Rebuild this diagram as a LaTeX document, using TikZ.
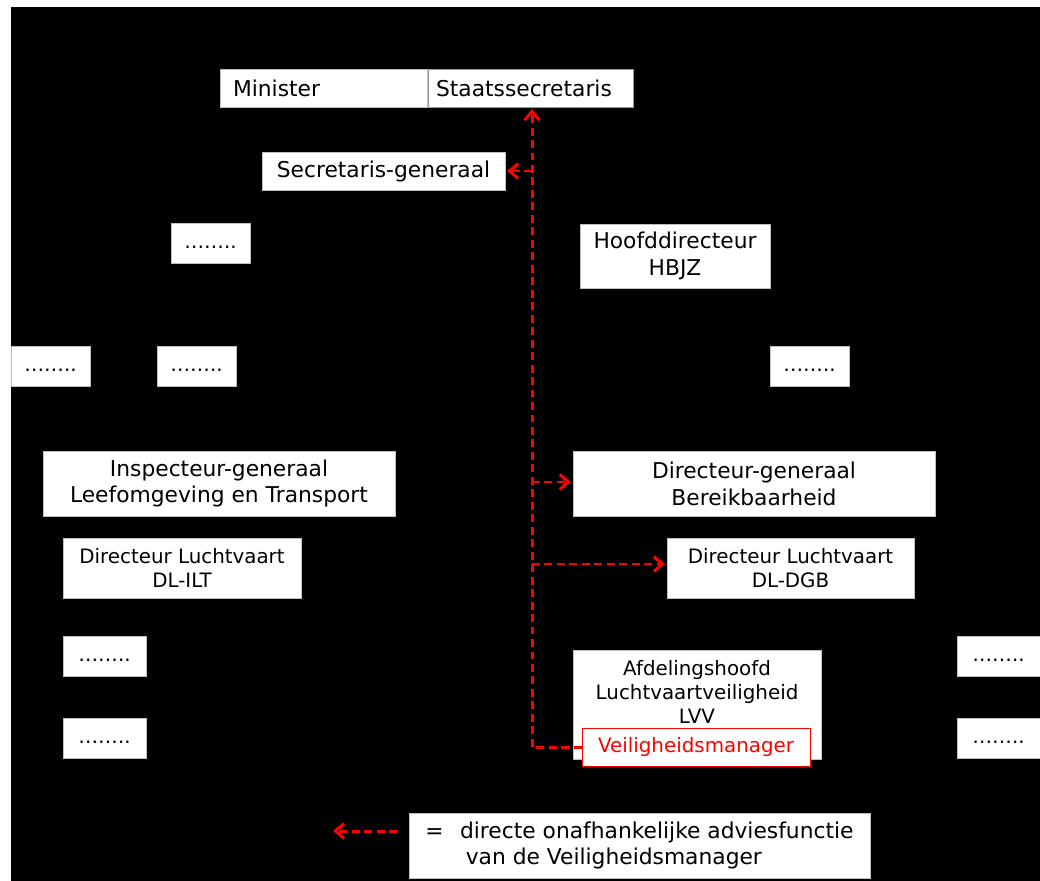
\documentclass[tikz,border=0pt]{standalone}
\usepackage{fontspec}
\setmainfont{DejaVu Sans}
\usetikzlibrary{arrows.meta,calc}
\newcommand{\bigfnt}{\fontsize{12.4}{15.3}\selectfont}
\newcommand{\smlfnt}{\fontsize{11.3}{13.6}\selectfont}
\tikzset{
  box/.style={draw=gray!50,fill=white,thin,inner sep=0pt,align=center,font=\bigfnt},
  sz/.style 2 args={minimum width=#1*0.02cm,minimum height=#2*0.02cm},
  adv/.style={red,line width=1.7pt,dash pattern=on 4.5pt off 2.6pt,
    -{Straight Barb[length=5pt,width=8.5pt]},shorten >=1pt},
}

\begin{document}
\begin{tikzpicture}[x=0.02cm,y=-0.02cm]
\useasboundingbox (0,0) rectangle (1040,881);
\fill[black] (11,7) rectangle (1040,881);

% top of the ministry
\node[box,sz={207}{38},text width=3.62cm,inner xsep=0.26cm,align=left] (minister) at (323.5,88) {Minister};
\node[box,draw=gray!80,sz={205}{38},text width=3.78cm,inner xsep=0.16cm,align=left] (staats) at (530.5,88) {Staatssecretaris};
\node[box,sz={243}{38}] (secgen) at (383.5,171) {Secretaris-generaal};
\node[box,sz={190}{64}] (hbjz) at (675,256) {Hoofddirecteur\\HBJZ};

% boxes with dots
\foreach \nm/\cx/\cy/\w in {dotsa/210.5/243/79, dotsb/50.5/366.5/79, dotsc/196.5/366.5/79,
    dotsd/809.5/366.5/79, dotse/104.5/656.5/83, dotsf/104.5/738.5/83,
    dotsg/998.5/656.5/83, dotsh/998.5/738.5/83}
  \node[box,font=\smlfnt,sz={\w}{40},text height=0.8em,text depth=0.2em] (\nm) at (\cx,\cy) {……..};

\node[box,sz={352}{65}] (igt) at (219,483.5) {Inspecteur-generaal\\Leefomgeving en Transport};
\node[box,sz={362}{65}] (dgb) at (754,483.5) {Directeur-generaal\\Bereikbaarheid};
\node[box,font=\smlfnt,sz={238}{60}] (dlilt) at (182,568) {Directeur Luchtvaart\\DL-ILT};
\node[box,font=\smlfnt,sz={247}{60}] (dldgb) at (790.5,568) {Directeur Luchtvaart\\DL-DGB};

% afdeling with the safety manager
\node[box,sz={248}{109}] (lvv) at (697,704.5) {};
\node[font=\smlfnt,align=center] (lvvtxt) at (697,692) {Afdelingshoofd\\Luchtvaartveiligheid\\LVV};
\node[box,draw=red,text=red,font=\smlfnt,sz={228}{38}] (vm) at (696,747) {Veiligheidsmanager};

% advice lines
\coordinate (trunk) at (532,747);
\draw[adv] (vm.west) -- (trunk) -- (trunk |- staats.south);
\draw[adv] (trunk |- secgen.east) -- (secgen.east);
\draw[adv] ($(trunk |- dgb.west)+(0,-1.5)$) -- ($(dgb.west)+(0,-1.5)$);
\draw[adv] ($(trunk |- dldgb.west)+(0,-4)$) -- ($(dldgb.west)+(0,-4)$);

% legend
\node[box,sz={461}{65},align=left] (legend) at (639.5,845.5)
  {=\hspace{0.75em}directe onafhankelijke adviesfunctie\\\hspace*{1.85em}van de Veiligheidsmanager};
\coordinate (legtail) at (397,831);
\coordinate (leghead) at (333,831);
\draw[adv,shorten >=0pt] (legtail) -- (leghead);
\end{tikzpicture}
\end{document}
